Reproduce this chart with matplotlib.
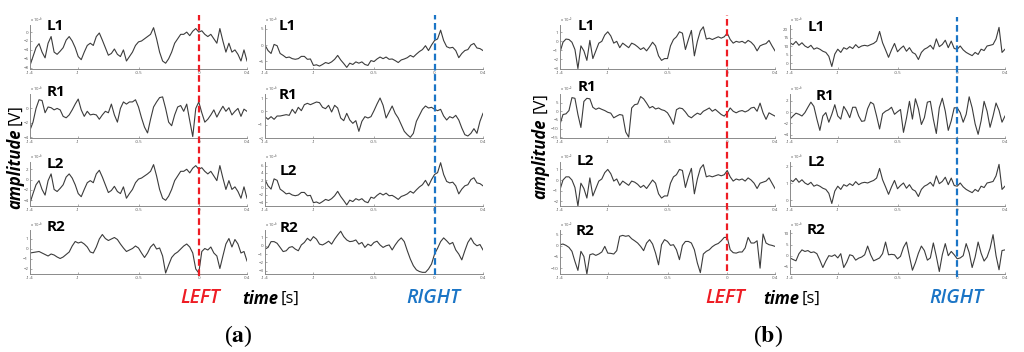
import matplotlib.pyplot as plt
import numpy as np

plt.rcParams['font.family'] = ['Open Sans', 'DejaVu Sans']
plt.rcParams['mathtext.fontset'] = 'stix'

# time axis of every trace [s]
t_start, t_end = -1.4, 0.4
xticks = [-1.4, -1, -0.5, 0, 0.4]
xticklabels = ['-1.4', '-1', '-0.5', '0', '0.4']
channels = ['L1', 'R1', 'L2', 'R2']

# ---- panel (a), left column (LEFT movement)
a_left_L1 = [-7.5, -5.5, -3.5, -2.6, -4.5, -5.8, -2.5, -1.0, -4.5, -5.0, -4.3, -3.5, -1.8, -1.0, -2.0,
             -3.5, -5.5, -6.2, -4.5, -3.0, -2.5, -3.0, -1.0, -0.2, -1.8, -3.5, -5.2, -4.8, -3.8, -5.0,
             -5.5, -4.0, -6.5, -5.5, -4.5, -3.0, -2.2, -2.0, -1.5, -1.0, -0.5, 1.0, -1.5, -4.5, -6.5,
             -7.0, -6.0, -4.5, -2.5, -1.5, -0.5, -0.5, 0.0, -0.8, 0.2, 0.8, 0.0, 0.3, -0.5, -1.0,
             -0.5, -1.5, -2.5, 0.8, -2.0, -4.5, -2.5, -4.5, -4.0, -5.0, -6.5, -4.0, -6.5]
a_left_R1 = [-3.0, -1.9, 0.0, 1.2, 1.1, -0.6, 0.2, 0.1, -0.2, 0.0, -0.2, -1.1, -1.3, -0.9, -0.2,
             0.6, 1.3, -0.2, -1.1, -0.4, -0.9, -0.8, -0.9, -1.5, -0.9, -0.4, -0.6, 0.6, -0.9, -1.9,
             0.0, 0.9, 0.6, 0.9, 0.9, 1.2, 0.2, -1.3, -2.6, -3.4, -1.5, 0.2, 0.9, 1.5, 1.6,
             0.0, -1.9, -2.4, -0.9, 0.2, 0.4, -0.4, 0.6, -1.7, -3.9, 0.0, 0.9, -0.6, -1.9, -1.5,
             -0.9, -0.2, -1.2, -0.4, 0.3, -0.4, 0.1, -0.9, -0.4, 0.0, -1.1, -0.1, -0.4]
a_left_L2 = [-4.5, -2.7, -1.0, -0.2, -1.9, -3.0, -0.2, 1.1, -1.9, -2.3, -1.7, -1.0, 0.5, 1.1, 0.3,
             -1.0, -2.7, -3.3, -1.9, -0.6, -0.2, -0.6, 1.1, 1.8, 0.5, -1.0, -2.5, -2.1, -1.3, -2.3,
             -2.7, -1.4, -3.6, -2.7, -1.9, -0.6, 0.1, 0.3, 0.7, 1.1, 1.6, 2.9, 0.7, -1.9, -3.6,
             -4.0, -3.2, -1.9, -0.2, 0.7, 1.6, 1.6, 2.0, 1.3, 2.2, 2.7, 2.0, 2.3, 1.6, 1.1,
             1.6, 0.7, -0.2, 2.7, 0.3, -1.9, -0.2, -1.9, -1.4, -2.3, -3.6, -1.4, -3.6]
a_left_R2 = [-0.4, -0.35, -0.3, -0.25, -0.4, -0.55, -0.7, -0.5, -0.6, -0.8, -0.95, -0.8, -0.55, -0.3, 0.3,
             0.75, 0.6, 0.7, 0.5, 0.2, -0.3, -0.4, 0.2, 1.0, 1.45, 1.05, 0.85, 1.0, 1.15, 0.95,
             0.5, 0.1, -0.25, -0.1, 0.05, 0.3, 0.1, -0.4, -0.85, -0.4, 0.2, 0.5, 0.0, 0.1, -0.7,
             -2.4, -1.6, -0.85, -0.5, -0.3, 0.0, 0.3, 0.5, 0.2, -0.4, -2.0, -2.4, -0.25, 0.05, -0.1,
             0.2, -0.4, -0.7, -1.95, -0.7, 0.5, 1.05, 0.2, 0.95, 0.5, -0.4, -0.25, -1.2]

# ---- panel (a), right column (RIGHT movement)
a_right_L1 = [0.0, -1.7, -2.6, 0.2, -0.2, -2.6, -3.2, -3.9, -3.7, -4.2, -4.4, -4.2, -3.5, -3.5, -4.4,
              -4.3, -6.3, -6.1, -6.5, -6.0, -5.4, -5.7, -5.2, -4.4, -3.2, -4.6, -5.7, -6.9, -5.6, -6.0,
              -5.2, -5.6, -5.2, -6.0, -6.3, -4.8, -5.1, -4.3, -3.7, -4.2, -3.7, -4.4, -4.3, -4.8, -5.4,
              -4.6, -4.3, -3.9, -3.2, -3.7, -2.8, -2.0, -1.4, -0.2, -1.7, 0.0, 1.4, 1.9, 4.6, 1.4,
              -0.5, -0.9, -0.7, -1.7, -3.9, -2.6, -1.7, -1.4, 0.0, 0.5, -0.9, -1.1, -1.7]
a_right_R1 = [-0.4, -0.6, -0.4, -0.6, -0.35, -0.35, -0.3, -0.25, -0.3, 0.15, -0.15, 0.3, 0.05, 0.5, 0.6,
              0.5, 0.6, 0.7, 0.65, 0.3, 0.2, 0.45, -0.05, 0.45, 0.25, -0.5, -0.7, -0.15, -0.65, -0.9,
              -0.7, -1.5, -0.75, -0.4, -0.5, -0.4, 0.05, 0.55, 1.0, 0.45, -0.5, -0.05, 0.4, -0.15, -0.5,
              -1.0, -1.5, -1.75, -1.95, -1.65, -0.75, -0.3, 0.15, 0.4, 0.25, 0.3, 0.15, 0.05, 0.15, -0.35,
              -0.65, -0.4, -0.5, -0.3, -0.65, -1.25, -1.75, -1.85, -1.65, -1.3, -1.65, -0.75, -0.15]
a_right_L2 = [2.2, 0.5, -0.4, 2.4, 2.0, -0.4, -1.0, -1.7, -1.5, -2.0, -2.2, -2.0, -1.3, -1.3, -2.2,
              -2.1, -4.1, -3.9, -4.3, -3.8, -3.2, -3.5, -3.0, -2.2, -1.0, -2.4, -3.5, -4.7, -3.4, -3.8,
              -3.0, -3.4, -3.0, -3.8, -4.1, -2.6, -2.9, -2.1, -1.5, -2.0, -1.5, -2.2, -2.1, -2.6, -3.2,
              -2.4, -2.1, -1.7, -1.0, -1.5, -0.6, 0.2, 0.8, 2.0, 0.5, 2.2, 3.6, 4.1, 6.8, 3.6,
              1.7, 1.3, 1.5, 0.5, -1.7, -0.4, 0.5, 0.8, 2.2, 2.7, 1.3, 1.1, 0.5]
a_right_R2 = [-0.4, -0.2, 0.5, 0.5, 0.3, -0.2, -0.7, -0.6, -0.2, -0.1, -0.4, -0.6, 0.1, 0.4, 0.9,
              0.6, 1.1, 0.8, 0.2, 0.1, 0.3, 0.55, 0.2, 0.8, 1.3, 1.75, 1.1, 0.7, 0.5, 0.55,
              0.7, 0.2, 0.4, -0.2, 0.2, 0.0, 0.4, 0.55, 0.1, -0.2, 0.0, 0.1, -0.5, 0.1, 0.6,
              0.95, 0.5, -0.6, -1.6, -2.4, -2.9, -3.1, -3.2, -3.2, -2.8, -2.2, -1.0, -0.3, 0.5, 0.95,
              0.6, 0.2, 0.4, -0.5, -1.0, -1.7, -0.6, 0.4, 0.95, 0.3, 0.0, 0.15, -0.5]

# ---- panel (b), left column (LEFT movement)
b_left_L1 = [-1.2, -0.1, 0.25, 0.2, -0.1, -0.9, -3.0, -0.5, -1.05, -2.1, 0.1, -1.9, -1.05, -0.2, 0.0,
             0.7, 1.05, 0.6, -0.2, 0.0, -0.7, -0.2, -0.45, -0.7, -0.2, -0.35, -0.6, -0.9, -0.7, -1.05,
             -0.6, -0.1, -0.5, -1.6, -2.1, -1.9, -1.9, -0.5, 0.2, 0.5, 1.05, 0.9, -0.9, 0.2, 1.2,
             -1.6, 0.0, 1.15, 1.6, 0.25, 0.35, 0.2, 0.35, 0.5, 0.35, 0.5, 0.9, 0.2, -0.2, 0.0,
             -0.1, 0.0, -0.2, 0.1, -0.1, -0.45, -1.05, -0.5, -0.35, -0.25, 0.1, -0.5, -1.05]
b_left_R1 = [-7.5, -1.9, -1.5, 0.4, 7.9, 7.5, -1.9, -9.4, 5.7, 7.5, 7.2, 2.3, 1.1, 1.9, 1.1,
             0.4, -0.6, -1.1, -3.8, -2.8, -1.9, -2.3, -12.0, -15.0, 1.9, 3.8, 4.2, 8.5, 7.2, 4.7,
             1.9, 2.8, 1.3, 1.9, 0.9, 0.4, -0.9, -3.8, -7.5, 0.9, 1.9, 1.5, -0.4, -2.8, -3.8,
             -2.3, -1.1, -1.9, 0.0, 0.9, 1.9, 0.0, 1.1, -0.4, -1.9, -2.8, -0.9, 1.9, 0.0, -0.9,
             0.0, 0.4, -0.4, 0.4, 1.9, 2.3, 0.0, 4.7, -0.9, -4.7, -0.9, -1.9, -2.8]
b_left_L2 = [-0.9, 0.0, 0.3, 0.3, 0.0, -0.7, -2.45, -0.3, -0.8, -1.7, 0.2, -1.5, -0.8, -0.1, 0.1,
             0.7, 1.0, 0.6, -0.1, 0.1, -0.5, -0.1, -0.3, -0.5, -0.1, -0.2, -0.4, -0.7, -0.5, -0.8,
             -0.4, 0.0, -0.3, -1.3, -1.7, -1.5, -1.5, -0.3, 0.3, 0.5, 1.0, 0.9, -0.7, 0.3, 1.1,
             -1.3, 0.1, 1.1, 1.45, 0.3, 0.4, 0.3, 0.4, 0.5, 0.4, 0.5, 0.9, 0.3, -0.1, 0.1,
             0.0, 0.1, -0.1, 0.2, 0.0, -0.3, -0.8, -0.3, -0.2, -0.1, 0.2, -0.3, -0.8]
b_left_R2 = [0.45, 0.75, 0.15, -0.75, -2.5, -7.0, -11.0, -2.5, -4.8, -12.6, -4.0, -3.6, -4.3, -3.7, -2.8,
             -0.3, -3.3, -3.4, -3.7, -2.2, 4.2, 4.6, 4.2, 4.5, 3.1, 2.2, 1.2, -0.3, -2.2, 1.2,
             2.7, 0.75, -3.3, -8.5, 0.45, 2.7, 1.9, 0.15, 0.45, -1.8, -6.2, 0.15, 1.9, 1.9, 1.2,
             -1.8, -7.7, -12.0, -3.7, -2.5, -1.8, -0.45, 0.45, 1.0, 2.2, 3.7, 3.7, -1.8, -3.1, -3.3,
             -2.8, -2.8, -1.0, 3.7, 1.2, 1.2, 2.2, -10.0, 5.2, 1.2, 0.45, 0.15, -0.3]

# ---- panel (b), right column (RIGHT movement)
b_right_L1 = [12.0, 10.9, 12.8, 10.5, 12.0, 10.1, 9.1, 10.5, 8.2, 9.0, 8.2, 7.0, 6.3, 4.0, -2.0,
              5.3, 8.2, 6.3, 9.1, 8.2, 9.7, 8.6, 10.9, 9.1, 10.1, 10.5, 10.1, 10.9, 11.6, 13.0,
              18.7, 12.0, 7.8, 3.4, 7.8, 11.6, 6.7, 8.6, 10.1, 7.0, 9.1, 6.3, 5.3, 2.1, 6.3,
              8.2, 9.1, 10.5, 8.2, 14.3, 9.7, 11.0, 13.5, 9.1, 13.0, 8.6, 8.2, 10.1, 7.8, 6.3,
              5.3, 4.4, 6.3, 5.1, 8.2, 7.4, 10.1, 10.5, 11.0, 14.3, 21.1, 6.3, 8.2]
b_right_R1 = [-1.25, -0.7, -0.2, -0.4, -0.7, -0.1, 0.85, 1.75, 1.0, -1.25, -3.25, -0.7, -0.1, -1.8, -0.4,
              1.3, -0.7, -1.25, 1.0, 0.15, -1.0, 0.85, 0.85, -0.7, -1.65, -1.55, 0.6, 1.75, 1.4, -0.7,
              -3.0, -0.3, 0.15, 0.4, 0.85, -0.4, 0.05, 0.45, -3.6, -1.1, 1.9, -1.25, 2.35, 0.6, -2.2,
              -1.0, 1.75, 1.9, -1.25, -3.8, 0.75, 2.45, 0.15, -3.25, -1.55, 0.75, 0.75, -0.1, -1.8, -0.4,
              2.7, 0.75, -2.1, -3.95, -1.55, 1.9, 0.15, -2.7, -0.7, 1.6, 0.3, -1.8, -0.7]
b_right_L2 = [1.2, 1.09, 1.28, 1.05, 1.2, 1.01, 0.91, 1.05, 0.82, 0.9, 0.82, 0.7, 0.63, 0.4, -0.2,
              0.53, 0.82, 0.63, 0.91, 0.82, 0.97, 0.86, 1.09, 0.91, 1.01, 1.05, 1.01, 1.09, 1.16, 1.3,
              1.87, 1.2, 0.78, 0.34, 0.78, 1.16, 0.67, 0.86, 1.01, 0.7, 0.91, 0.63, 0.53, 0.21, 0.63,
              0.82, 0.91, 1.05, 0.82, 1.43, 0.97, 1.1, 1.35, 0.91, 1.3, 0.86, 0.82, 1.01, 0.78, 0.63,
              0.53, 0.44, 0.63, 0.51, 0.82, 0.74, 1.01, 1.05, 1.1, 1.43, 2.11, 0.63, 0.82]
b_right_R2 = [-1.0, -1.7, -2.3, 0.9, 2.6, 1.9, 2.3, 1.4, 1.7, 0.9, -2.0, -5.3, -2.4, 0.0, -0.3,
              0.4, -1.0, 0.9, -5.3, -2.9, 0.4, 0.0, -2.0, -1.1, -0.6, 0.4, 4.3, 0.4, -2.3, -1.7,
              -1.0, 0.9, 6.1, 0.4, 0.6, 0.4, -1.4, -0.3, 3.7, 6.1, -0.3, -6.5, -3.1, 1.1, 4.3,
              2.3, -2.0, -1.0, 5.7, -0.3, -7.1, 0.4, 5.4, 0.0, 1.9, 0.4, -1.4, -1.0, 0.0, 5.4,
              1.4, -5.3, -0.6, 6.1, 1.1, -2.4, -0.6, 3.3, 9.4, 0.0, -6.3, 2.3, 2.6]

# figure geometry in pixels
W, H = 1024, 352
row_bottoms = [69, 138, 206, 274]
row_h = 44

columns = [
    dict(x0=30, x1=247, traces=[a_left_L1, a_left_R1, a_left_L2, a_left_R2],
         ylims=[(-8.3, 1.6), (-4.1, 2.0), (-5.1, 3.4), (-2.5, 1.9)],
         yticks=[[-8, -6, -4, -2, 0], [-4, -2, 0], [-4, -2, 0, 2], [-2, -1, 0, 1]],
         lab=[(47, 26), (47, 92), (47, 164), (47, 227)], exp='-6'),
    dict(x0=265, x1=483, traces=[a_right_L1, a_right_R1, a_right_L2, a_right_R2],
         ylims=[(-7.4, 6.2), (-2.0, 1.3), (-5.0, 7.0), (-3.4, 1.9)],
         yticks=[[-5, 0, 5], [-2, -1, 0, 1], [-4, -2, 0, 2, 4, 6], [-3, -2, -1, 0, 1]],
         lab=[(279, 26), (279, 95), (280, 171), (280, 228)], exp='-6'),
    dict(x0=560, x1=775, traces=[b_left_L1, b_left_R1, b_left_L2, b_left_R2],
         ylims=[(-3.05, 1.8), (-15.5, 10), (-2.45, 1.7), (-12.6, 7)],
         yticks=[[-3, -2, -1, 0, 1], [-15, -10, -5, 0, 5], [-2, -1, 0, 1], [-10, -5, 0, 5]],
         lab=[(578, 26), (578, 87), (577, 161), (576, 231)], exp='-5'),
    dict(x0=790, x1=1005, traces=[b_right_L1, b_right_R1, b_right_L2, b_right_R2],
         ylims=[(-3.5, 22.5), (-4.6, 3.2), (-0.35, 2.25), (-8.2, 11.5)],
         yticks=[[0, 5, 10, 15, 20], [-4, -2, 0, 2], [0, 1, 2], [-5, 0, 5, 10]],
         lab=[(808, 27), (816, 96), (808, 162), (807, 230)], exp='-6'),
]

fig = plt.figure(figsize=(W / 100, H / 100), dpi=100)

for col in columns:
    for r in range(4):
        vals = col['traces'][r]
        t = np.linspace(t_start, t_end, len(vals))
        ax = fig.add_axes([col['x0'] / W, 1 - row_bottoms[r] / H,
                           (col['x1'] - col['x0']) / W, row_h / H])
        ax.plot(t, vals, color='#3c3c3c', lw=0.8)
        ax.set_xlim(t_start, t_end)
        ax.set_ylim(*col['ylims'][r])
        ax.set_xticks(xticks)
        ax.set_xticklabels(xticklabels)
        ax.set_yticks(col['yticks'][r])
        ax.patch.set_alpha(0)
        for s in ['top', 'right']:
            ax.spines[s].set_visible(False)
        for s in ['left', 'bottom']:
            ax.spines[s].set_color('#8a8a8a')
            ax.spines[s].set_linewidth(0.7)
        ax.tick_params(labelsize=3.2, length=1.5, width=0.5, direction='in',
                       color='#8a8a8a', labelcolor='#555555', pad=1.2)
        ax.text(0.0, 1.1, r'x 10$^{%s}$' % col['exp'], transform=ax.transAxes,
                fontsize=3, color='#555555', ha='left', va='center')
        lx, ly = col['lab'][r]
        fig.text(lx / W, 1 - ly / H, channels[r], fontsize=11, fontweight='bold',
                 ha='left', va='center', color='black')

# dashed movement-onset markers at t = 0
markers = [(30, 247, '#ee1c24', 15, 276), (265, 483, '#1b75c6', 15, 275),
           (560, 775, '#ee1c24', 15, 271), (790, 1005, '#1b75c6', 17, 277)]
for x0, x1, c, y0, y1 in markers:
    ov = fig.add_axes([x0 / W, 1 - y1 / H, (x1 - x0) / W, (y1 - y0) / H])
    ov.set_xlim(t_start, t_end)
    ov.axis('off')
    ov.axvline(0, color=c, lw=1.6, ls=(0, (3, 1.6)))

# rotated y title: "amplitude" (bold italic) with "[V]" above it
for xc, y_amp_bottom, y_v_top in [(15, 209, 104), (540, 199, 92)]:
    fig.text(xc / W, 1 - y_amp_bottom / H, 'amplitude', rotation=90, fontsize=12,
             fontstyle='italic', fontweight='bold', ha='center', va='bottom')
    fig.text(xc / W, 1 - y_v_top / H, '[V]', rotation=90, fontsize=12,
             ha='center', va='top')

for xl, xt, xr in [(200, 278, 433), (725, 799, 956)]:
    fig.text(xl / W, 1 - 298 / H, 'LEFT', color='#ee1c24', fontsize=14,
             fontstyle='italic', fontweight='semibold', ha='center', va='center')
    fig.text(xt / W, 1 - 299 / H, 'time', fontsize=12, fontstyle='italic',
             fontweight='bold', ha='right', va='center')
    fig.text((xt + 3) / W, 1 - 299 / H, '[s]', fontsize=12, ha='left', va='center')
    fig.text(xr / W, 1 - 298 / H, 'RIGHT', color='#1b75c6', fontsize=14,
             fontstyle='italic', fontweight='semibold', ha='center', va='center')

fig.text(238 / W, 1 - 336 / H, r'($\mathbf{a}$)', fontsize=17,
         family='Liberation Serif', ha='center', va='center')
fig.text(768 / W, 1 - 336 / H, r'($\mathbf{b}$)', fontsize=17,
         family='Liberation Serif', ha='center', va='center')

fig.savefig('out.png', dpi=100)
